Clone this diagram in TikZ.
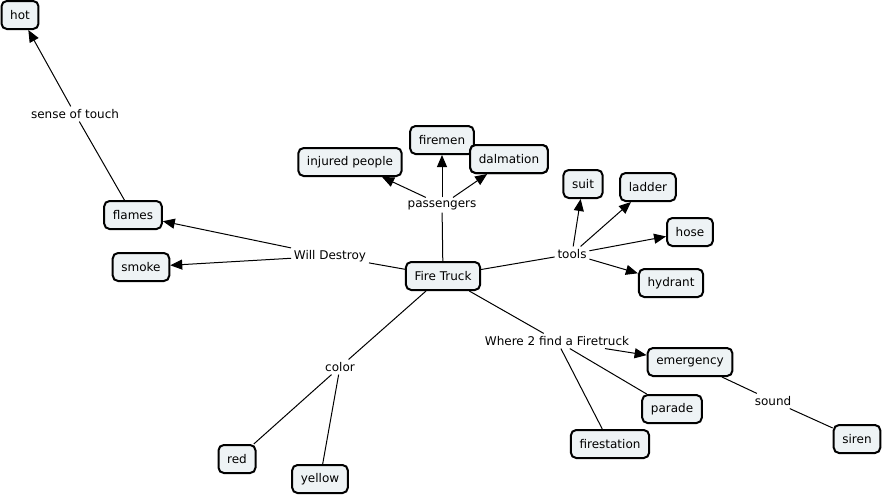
\documentclass[tikz,border=0pt]{standalone}
\usepackage{fontspec}
\setmainfont{DejaVu Sans}
\usetikzlibrary{arrows.meta}
\definecolor{boxfill}{RGB}{238,243,245}
\begin{document}
\begin{tikzpicture}[x=0.75pt,y=-0.75pt,
  concept/.style={draw=black, line width=1.5pt, rounded corners=4pt, fill=boxfill,
    inner xsep=6.5pt, inner ysep=2pt, minimum height=21pt, font=\fontsize{9}{11}\selectfont},
  linkword/.style={inner sep=2pt, font=\fontsize{9}{11}\selectfont},
  conn/.style={line width=0.75pt},
  arr/.style={conn, -{Triangle[length=9pt,width=7.5pt]}}]
\useasboundingbox (0,0) rectangle (884,496);

% concepts
\node[concept] (hot) at (20,15) {hot};
\node[concept] (flames) at (133,215) {flames};
\node[concept] (smoke) at (141,267) {smoke};
\node[concept] (truck) at (443,276) {Fire Truck};
\node[concept] (injured) at (350,162) {injured people};
\node[concept] (firemen) at (442,140) {firemen};
\node[concept] (dalmation) at (509,159) {dalmation};
\node[concept] (suit) at (583,184) {suit};
\node[concept] (ladder) at (648,187) {ladder};
\node[concept] (hose) at (690,232) {hose};
\node[concept] (hydrant) at (671,283) {hydrant};
\node[concept] (emergency) at (690,362) {emergency};
\node[concept] (parade) at (672,409) {parade};
\node[concept] (firestation) at (610,444) {firestation};
\node[concept] (siren) at (857,439) {siren};
\node[concept] (red) at (237,459) {red};
\node[concept] (yellow) at (320,479) {yellow};

% linking words
\node[linkword] (touch) at (75,114) {sense of touch};
\node[linkword] (destroy) at (330,256) {Will Destroy};
\node[linkword] (passengers) at (442,205) {passengers};
\node[linkword] (tools) at (572,254) {tools};
\node[linkword] (where) at (557,341) {Where 2 find a Firetruck};
\node[linkword] (sound) at (773,401) {sound};
\node[linkword] (color) at (340,367) {color};

% connectors
\draw[conn] (flames) -- (touch);
\draw[arr] (touch) -- (hot);
\draw[conn] (truck) -- (destroy);
\draw[arr] (destroy) -- (flames);
\draw[arr] (destroy) -- (smoke);
\draw[conn] (truck) -- (passengers);
\draw[arr] (passengers) -- (injured);
\draw[arr] (passengers) -- (firemen);
\draw[arr] (passengers) -- (dalmation);
\draw[conn] (truck) -- (tools);
\draw[arr] (tools) -- (suit);
\draw[arr] (tools) -- (ladder);
\draw[arr] (tools) -- (hose);
\draw[arr] (tools) -- (hydrant);
\draw[conn] (truck) -- (where);
\draw[arr] (where) -- (emergency);
\draw[conn] (where) -- (parade);
\draw[conn] (where) -- (firestation);
\draw[conn] (emergency) -- (sound);
\draw[conn] (sound) -- (siren);
\draw[conn] (truck) -- (color);
\draw[conn] (color) -- (red);
\draw[conn] (color) -- (yellow);

% redraw overlapping box on top
\node[concept] at (dalmation) {dalmation};
\end{tikzpicture}
\end{document}
